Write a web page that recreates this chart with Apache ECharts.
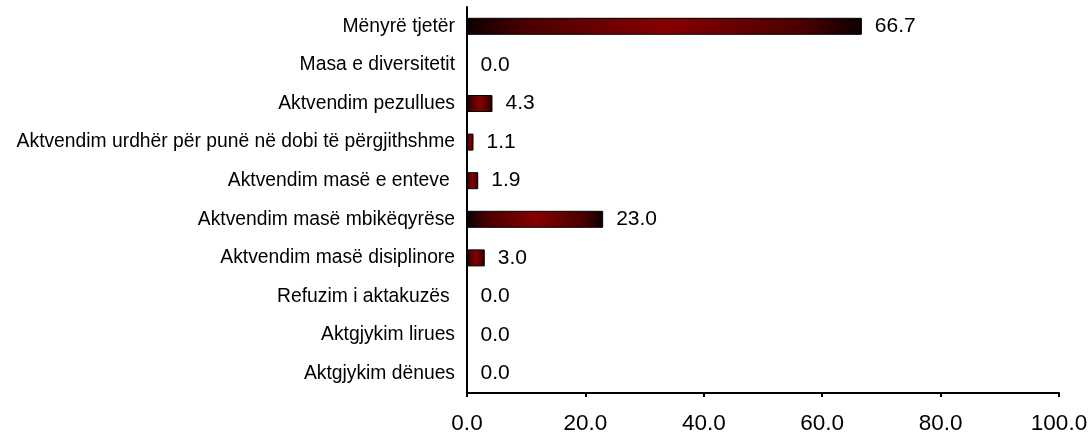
<!DOCTYPE html>
<html>
<head>
<meta charset="utf-8">
<script src="https://cdn.jsdelivr.net/npm/echarts@6/dist/echarts.min.js"></script>
<style>html,body{margin:0;padding:0;background:#fff;}#c{width:1091px;height:435px;}</style>
</head>
<body>
<div id="c"></div>
<script>
const categories = [
  "Mënyrë tjetër",
  "Masa e diversitetit",
  "Aktvendim pezullues",
  "Aktvendim urdhër për punë në dobi të përgjithshme",
  "Aktvendim masë e enteve ",
  "Aktvendim masë mbikëqyrëse",
  "Aktvendim masë disiplinore",
  "Refuzim i aktakuzës ",
  "Aktgjykim lirues",
  "Aktgjykim dënues"
];
const values = [66.7, 0.0, 4.3, 1.1, 1.9, 23.0, 3.0, 0.0, 0.0, 0.0];
const xTicks = [0, 20, 40, 60, 80, 100];

const chart = echarts.init(document.getElementById('c'), null, {renderer: 'canvas'});
const font = 'Liberation Sans, Arial, sans-serif';
chart.setOption({
  animation: false,
  grid: {left: 467, top: 7, right: 32, bottom: 42, containLabel: false},
  xAxis: {
    type: 'value',
    min: xTicks[0], max: xTicks[xTicks.length - 1], interval: xTicks[1] - xTicks[0],
    axisLine: {show: true, lineStyle: {color: '#000', width: 2}},
    axisTick: {show: true, length: 4, lineStyle: {color: '#000', width: 2}},
    splitLine: {show: false},
    axisLabel: {color: '#000', fontFamily: font, fontSize: 22.5, margin: 19,
      formatter: v => v.toFixed(1)}
  },
  yAxis: {
    type: 'category',
    data: categories,
    inverse: true,
    axisLine: {show: true, lineStyle: {color: '#000', width: 2}},
    axisTick: {show: false},
    axisLabel: {color: '#000', fontFamily: font, fontSize: 19.3, margin: 12}
  },
  series: [{
    type: 'bar',
    data: values,
    barWidth: 17,
    itemStyle: {
      borderColor: '#000', borderWidth: 1,
      color: new echarts.graphic.LinearGradient(0, 0, 1, 0, [
        {offset: 0, color: '#0d0000'},
        {offset: 0.15, color: '#4a0000'},
        {offset: 0.5, color: '#860000'},
        {offset: 0.85, color: '#4a0000'},
        {offset: 1, color: '#0d0000'}
      ])
    },
    label: {show: true, position: 'right', distance: 13, color: '#000',
      fontFamily: font, fontSize: 21, formatter: p => p.value.toFixed(1)}
  }]
});
</script>
</body>
</html>
